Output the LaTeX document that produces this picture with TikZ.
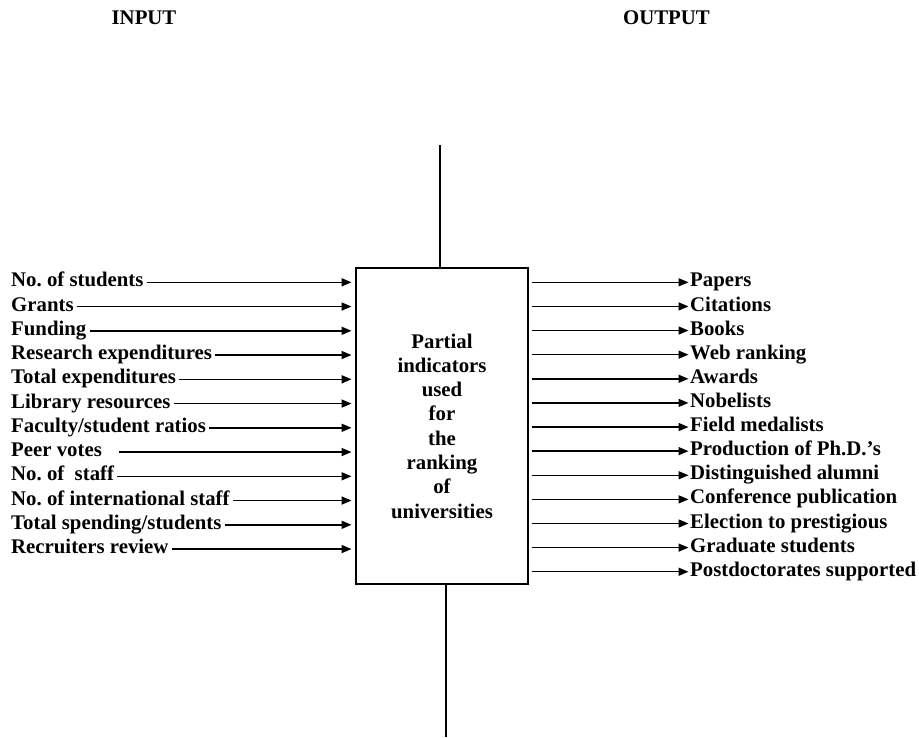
\documentclass[tikz,border=0pt]{standalone}
\usepackage{fontspec}
\setmainfont{Liberation Serif}
\usepackage{tikz}
\usetikzlibrary{positioning, arrows.meta}

\begin{document}
\begin{tikzpicture}[
    x=1pt, y=-1pt,
    lbl/.style={inner sep=0pt, font=\fontsize{20.8}{24}\selectfont\bfseries, text height=13.8pt, text depth=4.6pt},
    inlbl/.style={lbl, anchor=west},
    outlbl/.style={lbl, anchor=west},
    head/.style={lbl},
    box/.style={rectangle, draw, line width=2.3pt, minimum width=172pt, minimum height=316pt, align=center, font=\fontsize{20.8}{24.3}\selectfont\bfseries},
    arr/.style={-{Triangle[length=10pt, width=8pt]}, line width=1.5pt},
    spine/.style={line width=2pt},
]
    \useasboundingbox (0,0) rectangle (919,737);

    % Headings
    \node[head] (inhead) at (144,19.4) {INPUT};
    \node[head] (outhead) at (666.5,19.4) {OUTPUT};

    % Central block
    \node[box] (box) at (442,426) {Partial\\indicators\\used\\for\\the\\ranking\\of\\universities};

    % Vertical line through the block
    \coordinate (top) at (440,145);
    \coordinate (bottom) at (446,737);
    \draw[spine] (top) -- (top |- box.north);
    \draw[spine] (bottom |- box.south) -- (bottom);

    % Inputs
    \foreach \txt [count=\i from 0] in {No.\ of students, Grants, Funding, Research expenditures, Total expenditures, Library resources, Faculty/student ratios, Peer votes\kern14pt, No.\ of\ \ staff, No.\ of international staff, Total spending/students, Recruiters review} {
        \node[inlbl] (in\i) at (11,282.3+24.25*\i) {\txt};
        \draw[arr, shorten <=3pt, shorten >=3.3pt] (in\i.east) -- (in\i -| box.west);
    }

    % Outputs
    \foreach \txt [count=\j from 0] in {Papers, Citations, Books, Web ranking, Awards, Nobelists, Field medalists, Production of Ph.D.'s, Distinguished alumni, Conference publication, Election to prestigious, Graduate students, Postdoctorates supported} {
        \node[outlbl] (out\j) at (690,282.3+24.12*\j) {\txt};
        \draw[arr, shorten <=2.5pt, shorten >=1.5pt] (out\j -| box.east) -- (out\j.west);
    }

\end{tikzpicture}
\end{document}
